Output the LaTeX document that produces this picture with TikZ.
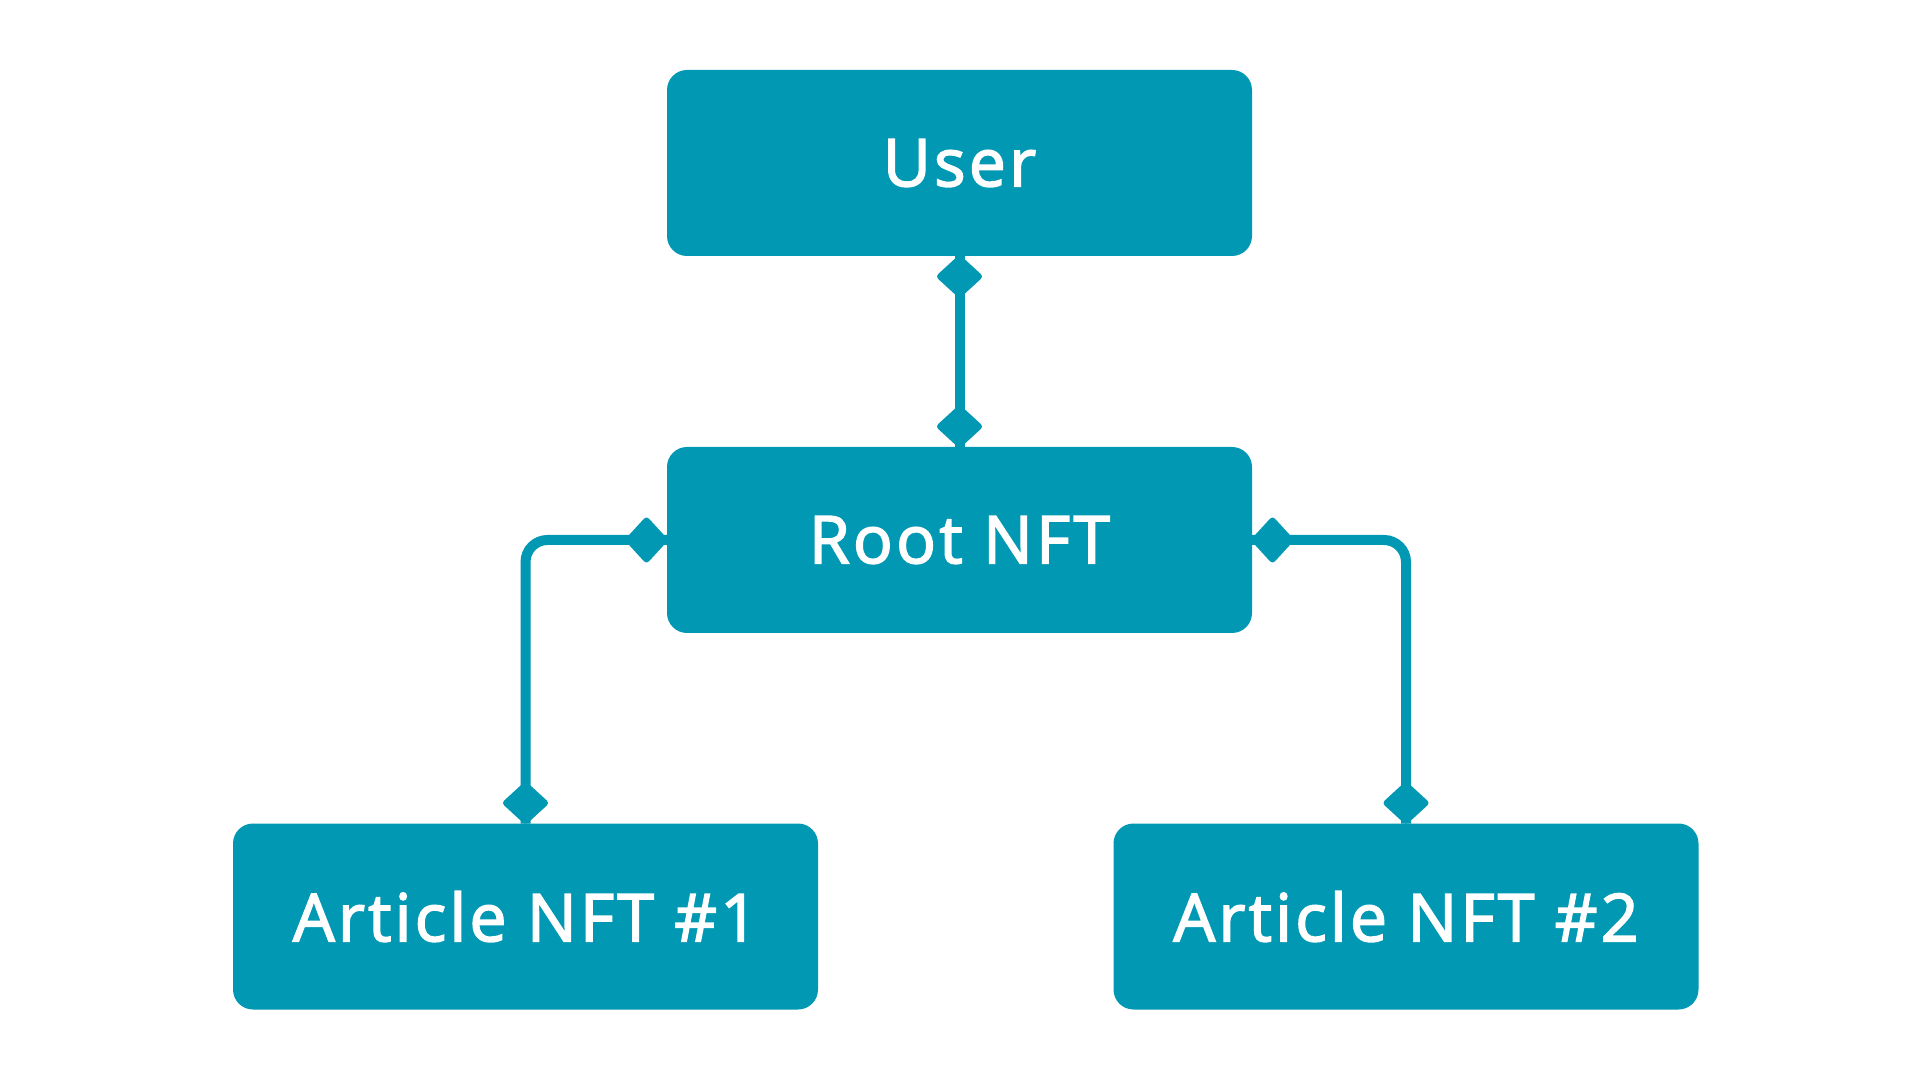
\documentclass[tikz,border=0pt]{standalone}
\usepackage{fontspec}
\newfontfamily\boxfont{Open Sans}[LetterSpace=5, FakeBold=2.4]
\definecolor{tealbox}{HTML}{0098B3}
\tikzset{
  x=1pt, y=1pt,
  box/.style={fill=tealbox, rounded corners=20pt, minimum width=585pt, minimum height=186pt,
    inner sep=0pt, outer sep=0pt, text=white, font=\boxfont\fontsize{66}{72}\selectfont},
  conn/.style={draw=tealbox, line width=10pt},
  dia/.style={fill=tealbox, draw=none, rounded corners=3.5pt}
}
\begin{document}
\begin{tikzpicture}
\fill[white] (0,0) rectangle (1920,1080);
\useasboundingbox (0,0) rectangle (1920,1080);
\node[box] (user) at (959.5,917) {User};
\node[box] (root) at (959.5,540) {Root NFT};
\node[box] (a1) at (525.5,163.5) {Article NFT \#1};
\node[box] (a2) at (1406,163.5) {Article NFT \#2};
\draw[conn] (user.south) -- (root.north);
\draw[conn, rounded corners=22pt] (root.west) -| (a1.north);
\draw[conn, rounded corners=22pt] (root.east) -| (a2.north);
% diamonds at connector ends
\fill[dia, shift={(user.south)}] (0,1.5) -- (24,-20.5) -- (0,-42.5) -- (-24,-20.5) -- cycle;
\fill[dia, shift={(root.north)}] (0,-1.5) -- (24,20.5) -- (0,42.5) -- (-24,20.5) -- cycle;
\fill[dia, shift={(a1.north)}] (0,-1.5) -- (24,20.5) -- (0,42.5) -- (-24,20.5) -- cycle;
\fill[dia, shift={(a2.north)}] (0,-1.5) -- (24,20.5) -- (0,42.5) -- (-24,20.5) -- cycle;
\fill[dia, shift={(root.west)}] (1.5,0) -- (-20.5,24) -- (-42.5,0) -- (-20.5,-24) -- cycle;
\fill[dia, shift={(root.east)}] (-1.5,0) -- (20.5,24) -- (42.5,0) -- (20.5,-24) -- cycle;
\end{tikzpicture}
\end{document}
